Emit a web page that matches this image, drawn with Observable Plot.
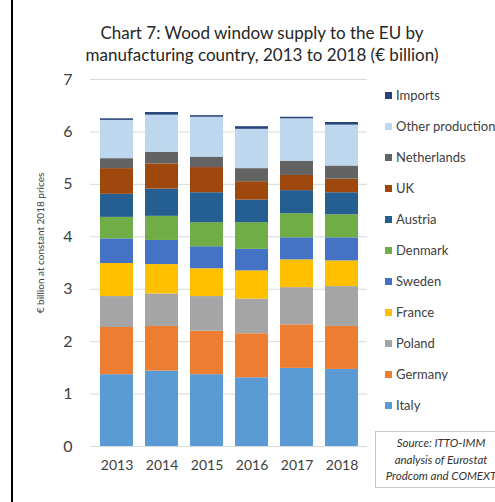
<!DOCTYPE html>
<html>
<head>
<meta charset="utf-8">
<script src="https://cdn.jsdelivr.net/npm/d3@7"></script>
<script src="https://cdn.jsdelivr.net/npm/@observablehq/plot@0.6"></script>
<style>
  html, body { margin: 0; padding: 0; background: #fff; }
  #wrap { position: relative; width: 495px; height: 502px; overflow: hidden; font-family: Lato, "Open Sans", sans-serif; }
  #wrap svg { position: absolute; left: 0; top: 0; }
  .title { position: absolute; left: 80px; width: 364px; text-align: center; font-size: 17px; color: #262626; line-height: 22px; top: 22px; white-space: nowrap; }
  .ylab { position: absolute; left: 40px; top: 243px; transform: translate(-50%, -50%) rotate(-90deg); font-size: 10px; color: #404040; white-space: nowrap; }
  .leg { position: absolute; left: 385px; font-size: 13px; color: #404040; white-space: nowrap; line-height: 14px; }
  .leg span.sw { display: inline-block; width: 7px; height: 7px; margin-right: 4px; vertical-align: 1px; }
  .src { position: absolute; left: 375px; top: 431px; width: 132px; height: 57px; border: 1px solid #c8c8c8; box-sizing: border-box; text-align: center; font-size: 11.5px; font-style: italic; color: #333; line-height: 16.5px; padding-top: 3px; white-space: nowrap; }
  .border { position: absolute; left: 11px; top: 0; width: 2px; height: 502px; background: #000; }
</style>
</head>
<body>
<div id="wrap"></div>
<script>
const years = ["2013", "2014", "2015", "2016", "2017", "2018"];
const seriesNames = ["Italy", "Germany", "Poland", "France", "Sweden", "Denmark", "Austria", "UK", "Netherlands", "Other production", "Imports"];
const seriesColors = ["#5B9BD5", "#ED7D31", "#A5A5A5", "#FFC000", "#4472C4", "#70AD47", "#255E91", "#9E480E", "#636363", "#BDD7EE", "#264478"];

const italy       = [1.37, 1.44, 1.37, 1.31, 1.49, 1.47];
const germany     = [0.90, 0.85, 0.83, 0.84, 0.83, 0.82];
const poland      = [0.59, 0.62, 0.66, 0.66, 0.71, 0.76];
const france      = [0.63, 0.56, 0.53, 0.54, 0.53, 0.49];
const sweden      = [0.47, 0.46, 0.42, 0.41, 0.42, 0.44];
const denmark     = [0.41, 0.46, 0.46, 0.51, 0.46, 0.44];
const austria     = [0.44, 0.52, 0.57, 0.43, 0.44, 0.42];
const uk          = [0.49, 0.48, 0.48, 0.35, 0.29, 0.26];
const netherlands = [0.19, 0.22, 0.20, 0.25, 0.27, 0.25];
const other       = [0.73, 0.71, 0.76, 0.75, 0.81, 0.78];
const imports     = [0.03, 0.05, 0.03, 0.05, 0.03, 0.05];

const yTicks = [0, 1, 2, 3, 4, 5, 6, 7];

const seriesValues = [italy, germany, poland, france, sweden, denmark, austria, uk, netherlands, other, imports];
const data = [];
seriesNames.forEach((s, i) => years.forEach((yr, j) => data.push({year: yr, series: s, value: seriesValues[i][j]})));

const plot = Plot.plot({
  width: 495,
  height: 502,
  marginLeft: 90,
  marginRight: 128,
  marginTop: 79,
  marginBottom: 56,
  style: { fontFamily: "Lato, 'Open Sans', sans-serif", background: "transparent" },
  x: { domain: years, paddingInner: 0.27, paddingOuter: 0.15, label: null },
  y: { domain: [0, 7], label: null },
  color: { domain: seriesNames, range: seriesColors },
  marks: [
    Plot.ruleY(yTicks, { stroke: "#d9d9d9", strokeWidth: 1 }),
    Plot.barY(data, { x: "year", y: "value", fill: "series", order: seriesNames }),
    Plot.axisY({ ticks: yTicks, tickFormat: d => String(d), tickSize: 0, tickPadding: 18, fontSize: 16, fill: "#404040", label: null }),
    Plot.axisX({ tickSize: 0, tickPadding: 14, fontSize: 14, fill: "#404040", label: null })
  ]
});

const wrap = document.getElementById("wrap");
wrap.appendChild(plot);

const border = document.createElement("div");
border.className = "border";
wrap.appendChild(border);

const title = document.createElement("div");
title.className = "title";
title.innerHTML = "Chart 7: Wood window supply to the EU by<br>manufacturing country, 2013 to 2018 (€ billion)";
wrap.appendChild(title);

const ylab = document.createElement("div");
ylab.className = "ylab";
ylab.textContent = "€ billion at constant 2018 prices";
wrap.appendChild(ylab);

// Legend (top to bottom: reverse of stack order)
const legendOrder = seriesNames.slice().reverse();
legendOrder.forEach((s, k) => {
  const d = document.createElement("div");
  d.className = "leg";
  d.style.top = (95 + k * 31 - 7) + "px";
  const sw = document.createElement("span");
  sw.className = "sw";
  sw.style.background = seriesColors[seriesNames.indexOf(s)];
  d.appendChild(sw);
  d.appendChild(document.createTextNode(s));
  wrap.appendChild(d);
});

const src = document.createElement("div");
src.className = "src";
src.innerHTML = "Source: ITTO-IMM<br>analysis of Eurostat<br>Prodcom and COMEXT";
wrap.appendChild(src);
</script>
</body>
</html>
